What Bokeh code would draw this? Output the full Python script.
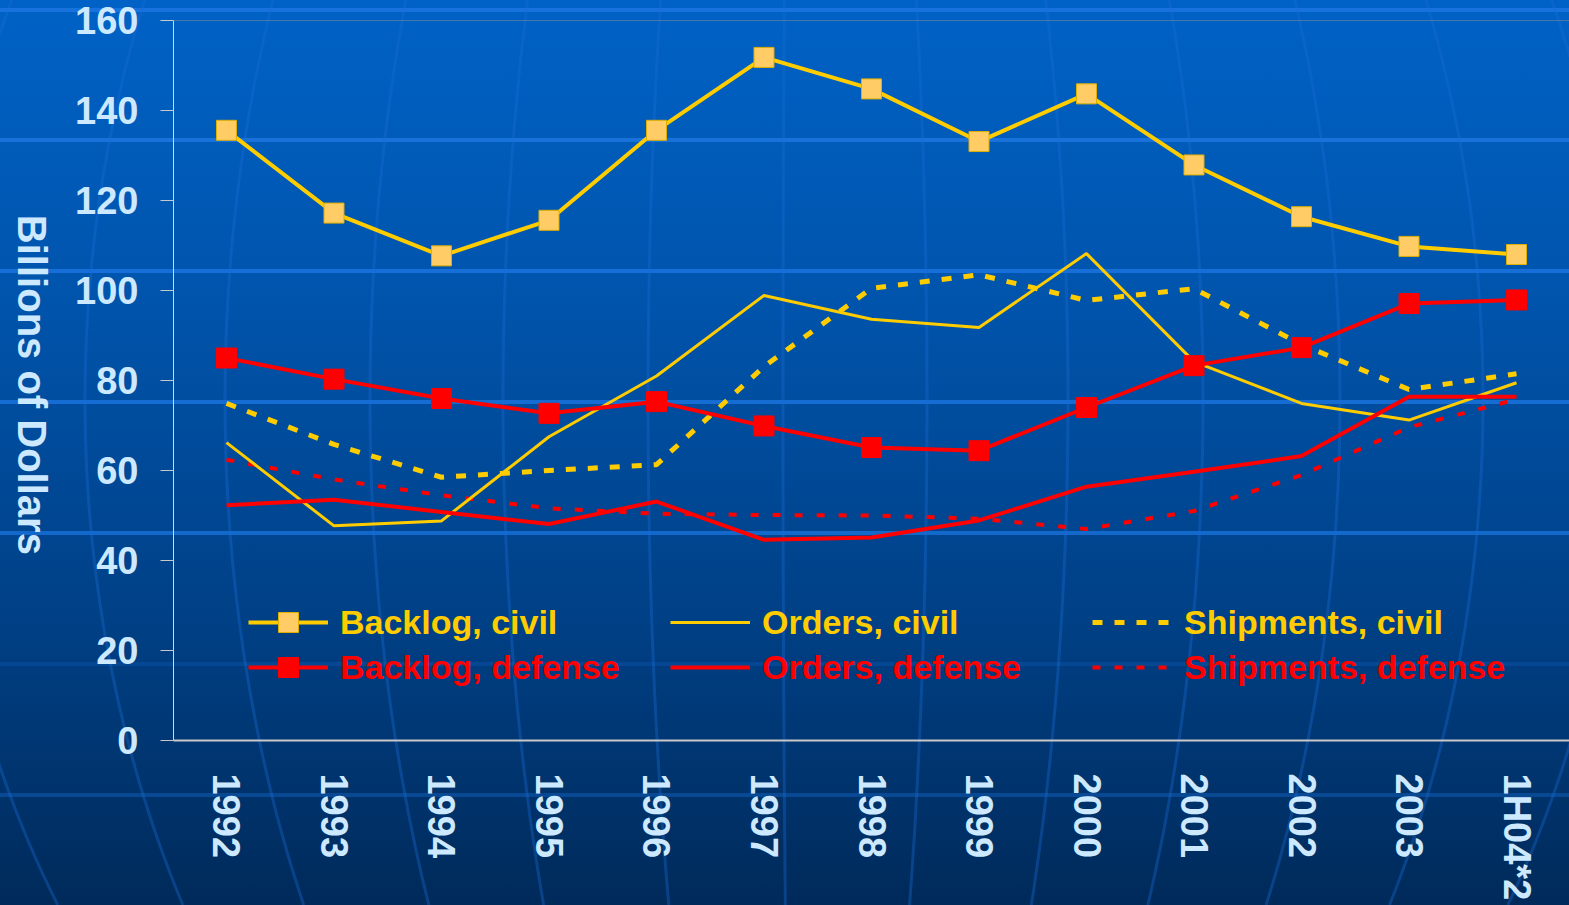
import math
import base64
import numpy as np
from bokeh.plotting import figure
from bokeh.layouts import row
from bokeh.models import Range1d, FixedTicker, Span, Legend, LegendItem, Label
from bokeh.embed import file_html
from bokeh.resources import INLINE

# ---------------- data ----------------
categories = ["1992", "1993", "1994", "1995", "1996", "1997", "1998",
              "1999", "2000", "2001", "2002", "2003", "1H04*2"]
backlog_civil = [135.6, 117.2, 107.7, 115.6, 135.6, 151.8, 144.8, 133.1, 143.7, 127.9, 116.4, 109.8, 108.0]
backlog_defense = [85.0, 80.3, 76.0, 72.7, 75.3, 69.9, 65.1, 64.4, 74.0, 83.3, 87.3, 97.1, 97.9]
orders_civil = [66.2, 47.7, 48.8, 67.5, 81.0, 98.9, 93.6, 91.8, 108.2, 84.2, 74.9, 71.2, 79.5]
orders_defense = [52.3, 53.5, 50.8, 48.1, 53.1, 44.6, 45.1, 48.9, 56.4, 59.7, 63.2, 76.4, 76.4]
shipments_civil = [74.9, 65.8, 58.5, 60.0, 61.3, 83.1, 100.5, 103.5, 97.8, 100.4, 88.0, 78.0, 81.5]
shipments_defense = [62.4, 58.0, 54.5, 51.6, 50.4, 50.1, 50.0, 49.3, 47.0, 51.0, 59.0, 69.6, 75.8]
y_ticks = [0, 20, 40, 60, 80, 100, 120, 140, 160]
y_label = "Billions of Dollars"

xs = list(range(len(categories)))

YELLOW = "#ffcc00"
RED = "#ff0000"
LIGHT = "#cce9ff"
FONT = "Liberation Sans"

SIDE_W = 60
W, H = 1569, 905

# ---------------- side strip holding the y-axis title ----------------
side = figure(width=SIDE_W, height=H, output_backend="svg", toolbar_location=None,
              x_range=Range1d(0, SIDE_W), y_range=Range1d(0, H),
              x_axis_location=None, y_axis_location=None, min_border=0)
side.background_fill_alpha = 0
side.border_fill_alpha = 0
side.outline_line_color = None
side.grid.visible = False
side.add_layout(Label(x=31, y=447, text=y_label, angle=-math.pi / 2,
                      text_align="center", text_baseline="middle",
                      text_font=FONT, text_font_style="bold", text_font_size="40px",
                      text_color=LIGHT))

# ---------------- main chart ----------------
p = figure(width=W - SIDE_W, height=H, output_backend="svg", toolbar_location=None,
           x_range=Range1d(-0.493, 12.493), y_range=Range1d(0, 160),
           min_border_left=173 - SIDE_W, min_border_right=0, min_border_top=20,
           min_border_bottom=165)
p.background_fill_alpha = 0
p.border_fill_alpha = 0
p.outline_line_color = None
p.grid.visible = False

# x axis
xax = p.xaxis[0]
xax.ticker = FixedTicker(ticks=xs)
xax.major_label_overrides = {i: c for i, c in enumerate(categories)}
xax.major_label_orientation = -math.pi / 2
xax.major_tick_line_color = None
xax.major_tick_out = 0
xax.major_tick_in = 0
xax.minor_tick_line_color = None
xax.axis_line_color = "#c8c8c8"
xax.axis_line_width = 2
xax.major_label_text_font = FONT
xax.major_label_text_font_style = "bold"
xax.major_label_text_font_size = "38px"
xax.major_label_text_color = LIGHT
xax.major_label_standoff = 33

# y axis
yax = p.yaxis[0]
yax.ticker = FixedTicker(ticks=y_ticks)
yax.major_tick_out = 13
yax.major_tick_in = 0
yax.major_tick_line_color = "#c8c8c8"
yax.minor_tick_line_color = None
yax.axis_line_color = "#d8d8d8"
yax.axis_line_width = 1
yax.major_label_text_font = FONT
yax.major_label_text_font_style = "bold"
yax.major_label_text_font_size = "38px"
yax.major_label_text_color = LIGHT
yax.major_label_standoff = 22

# top border of plot area
p.add_layout(Span(location=y_ticks[-1], dimension="width", line_color="#8c8c8c", line_width=1))

# series
sc = p.line(xs, shipments_civil, line_color=YELLOW, line_width=5, line_dash="10 12")
sd = p.line(xs, shipments_defense, line_color=RED, line_width=4, line_dash="8 14")
oc = p.line(xs, orders_civil, line_color=YELLOW, line_width=3)
od = p.line(xs, orders_defense, line_color=RED, line_width=4)
bcl = p.line(xs, backlog_civil, line_color=YELLOW, line_width=4)
bcs = p.scatter(xs, backlog_civil, marker="square", size=20, fill_color="#ffcc66",
                line_color="#e0b000", line_width=1)
bdl = p.line(xs, backlog_defense, line_color=RED, line_width=4)
bds = p.scatter(xs, backlog_defense, marker="square", size=20, fill_color=RED,
                line_color=RED, line_width=1)


def make_legend(items, color, loc):
    return Legend(items=items, orientation="horizontal", location=loc,
                  glyph_width=80, glyph_height=50, label_height=50, label_width=330,
                  label_standoff=12, spacing=0, padding=0, margin=0,
                  border_line_color=None, background_fill_alpha=0,
                  label_text_font=FONT, label_text_font_style="bold",
                  label_text_font_size="34px", label_text_color=color)


leg1 = make_legend([LegendItem(label="Backlog, civil", renderers=[bcl, bcs]),
                    LegendItem(label="Orders, civil", renderers=[oc]),
                    LegendItem(label="Shipments, civil", renderers=[sc])], YELLOW, (75, 93))
leg2 = make_legend([LegendItem(label="Backlog, defense", renderers=[bdl, bds]),
                    LegendItem(label="Orders, defense", renderers=[od]),
                    LegendItem(label="Shipments, defense", renderers=[sd])], RED, (75, 48))
p.add_layout(leg1)
p.add_layout(leg2)

layout = row(side, p, spacing=0)

# ---------------- page background (decorative globe) ----------------
svg = [f'<svg xmlns="http://www.w3.org/2000/svg" width="{W}" height="{H}" viewBox="0 0 {W} {H}">',
       '<defs><linearGradient id="g" x1="0" y1="0" x2="0" y2="1">',
       '<stop offset="0" stop-color="#0062c6"/>',
       '<stop offset="0.35" stop-color="#0053aa"/>',
       '<stop offset="0.7" stop-color="#003f84"/>',
       '<stop offset="1" stop-color="#002a5a"/>',
       '</linearGradient></defs>',
       f'<rect width="{W}" height="{H}" fill="url(#g)"/>']
for yy, op in [(10, 0.9), (140, 0.9), (271, 0.85), (402, 0.8), (533, 0.75), (664, 0.2), (795, 0.35)]:
    svg.append(f'<line x1="0" x2="{W}" y1="{yy}" y2="{yy}" stroke="#1a74e0" stroke-width="4" stroke-opacity="{op}"/>')
cx, y0, R = 800.0, 400.0, 1000.0
ys = np.linspace(0, H, 60)
for xm in [-60, 85, 225, 370, 503, 648, 783, 927, 1068, 1203, 1340, 1483, 1620]:
    f = np.sqrt(1 - ((ys - y0) / R) ** 2)
    xx = cx + (xm - cx) * f
    pts = " ".join(f"{a:.1f},{b:.1f}" for a, b in zip(xx, ys))
    svg.append(f'<polyline points="{pts}" fill="none" stroke="#1a6cd8" stroke-width="3" stroke-opacity="0.35"/>')
svg.append('</svg>')
b64 = base64.b64encode("".join(svg).encode()).decode()
style = ("<style>html{background:#003a7a url(data:image/svg+xml;base64," + b64 +
         ") 0 0 / 1569px 905px no-repeat;} body{overflow:hidden;}</style>")

html = file_html(layout, INLINE, title="Backlog, orders and shipments")
html = html.replace("</head>", style + "</head>", 1)
open("out.html", "w").write(html)
